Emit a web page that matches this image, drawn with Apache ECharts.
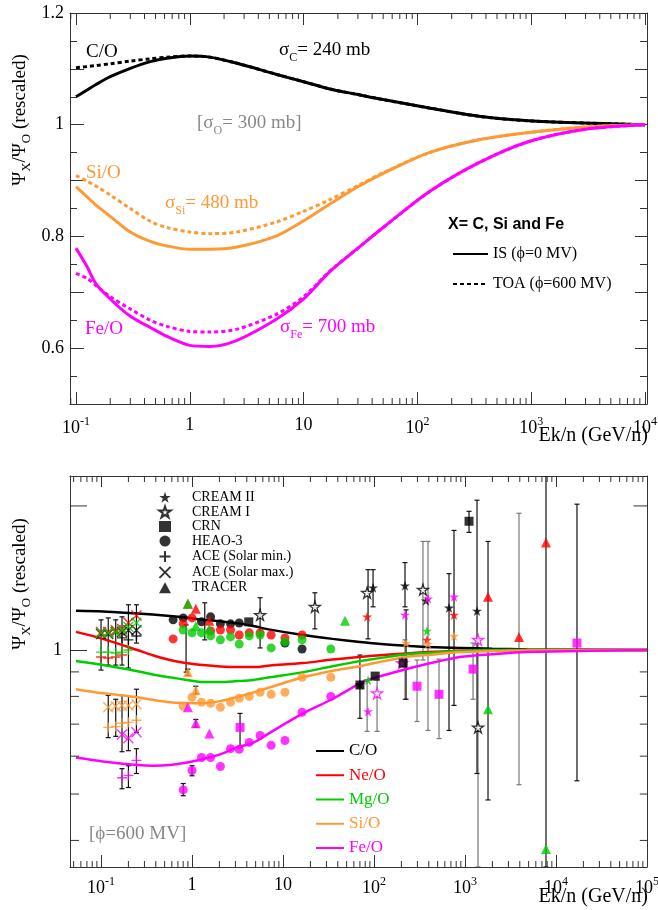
<!DOCTYPE html>
<html><head><meta charset="utf-8">
<script src="https://cdn.jsdelivr.net/npm/echarts@6/dist/echarts.min.js"></script>
<style>html,body{margin:0;padding:0;background:#fff}#c{width:658px;height:910px}</style>
</head><body><div id="c"></div>
<script>
// ---------------- TOP PANEL: IS (solid) vs TOA (dotted) ----------------
const eTop  = [0.1,0.125,0.15,0.2,0.3,0.45,0.63,1,1.5,2.6,5.8,10,17,30,50,127,347,955,3000,10000];
const cIS   = [1.050,1.062,1.072,1.086,1.101,1.113,1.119,1.123,1.121,1.110,1.090,1.077,1.064,1.054,1.045,1.030,1.015,1.007,1.003,1.000];
const cTOA  = [1.102,1.104,1.106,1.109,1.114,1.118,1.121,1.123,1.121,1.110,1.090,1.077,1.064,1.054,1.045,1.030,1.015,1.007,1.003,1.000];
const siIS  = [0.889,0.871,0.856,0.836,0.808,0.791,0.783,0.777,0.777,0.781,0.801,0.828,0.858,0.889,0.913,0.950,0.973,0.986,0.996,1.000];
const siTOA = [0.909,0.899,0.890,0.874,0.850,0.827,0.816,0.808,0.805,0.808,0.826,0.845,0.866,0.891,0.914,0.950,0.973,0.986,0.996,1.000];
const feIS  = [0.779,0.746,0.715,0.688,0.657,0.637,0.621,0.605,0.603,0.614,0.652,0.688,0.737,0.779,0.816,0.880,0.932,0.970,0.992,1.000];
const feTOA = [0.734,0.725,0.712,0.692,0.670,0.650,0.639,0.630,0.629,0.634,0.661,0.692,0.738,0.779,0.816,0.880,0.932,0.970,0.992,1.000];

// ---------------- BOTTOM PANEL: model curves (phi = 600 MV) ----------------
const eBot = [0.053,0.105,0.25,0.37,0.57,0.88,1.32,2.03,3.1,4.7,7.2,16.6,35,70,90,250,380,880,2000,4800,100000];
const coB  = [1.208,1.204,1.192,1.186,1.178,1.168,1.157,1.148,1.138,1.122,1.103,1.075,1.055,1.039,1.034,1.019,1.015,1.010,1.006,1.003,1.000];
const neB  = [1.091,1.055,1.000,0.975,0.953,0.938,0.930,0.924,0.921,0.921,0.928,0.939,0.955,0.967,0.971,0.985,0.990,0.996,0.999,1.000,1.000];
const mgB  = [0.948,0.930,0.903,0.889,0.877,0.866,0.857,0.857,0.861,0.866,0.877,0.899,0.925,0.948,0.955,0.982,0.986,0.995,1.000,1.000,1.000];
const siB  = [0.828,0.812,0.797,0.787,0.778,0.775,0.774,0.782,0.797,0.815,0.836,0.877,0.905,0.925,0.935,0.970,0.976,0.990,0.995,0.998,1.000];
const feB  = [0.596,0.585,0.575,0.573,0.575,0.582,0.592,0.605,0.626,0.640,0.672,0.737,0.790,0.852,0.869,0.917,0.935,0.967,0.980,0.990,1.000];

// ---------------- data points ----------------
const aceMaxC_E = [0.10,0.12,0.145,0.17,0.20,0.245], aceMaxC_R = [1.08,1.08,1.09,1.09,1.10,1.10];
const aceMaxNe_E = [0.10,0.12,0.145,0.17,0.20,0.245], aceMaxNe_R = [1.09,1.09,1.10,1.107,1.14,1.18];
const aceMaxMg_E = [0.10,0.12,0.145,0.17,0.20,0.245], aceMaxMg_R = [1.085,1.085,1.09,1.10,1.118,1.14];
const aceMaxSi_E = [0.12,0.145,0.17,0.20,0.245], aceMaxSi_R = [0.759,0.763,0.766,0.766,0.770];
const aceMaxFe_E = [0.17,0.20,0.245], aceMaxFe_R = [0.666,0.654,0.673];
const aceMinC_E = [0.17,0.20,0.245], aceMinC_R = [1.06,1.05,1.07];
const aceMinNe_E = [0.10,0.12,0.145,0.17], aceMinNe_R = [0.967,0.962,0.967,0.976];
const aceMinMg_E = [0.10,0.12,0.145,0.17,0.20], aceMinMg_R = [0.990,0.990,0.986,0.990,1.000];
const aceMinSi_E = [0.12,0.145,0.17,0.20,0.245], aceMinSi_R = [0.689,0.692,0.703,0.706,0.713];
const aceMinFe_E = [0.17,0.20,0.245], aceMinFe_R = [0.541,0.547,0.588];
const heaoC_E = [0.62,0.8,1.27,1.6,2.05,2.65,3.3,10.5,16.2];
const heaoC_R = [1.156,1.167,1.145,1.173,1.134,1.134,1.139,1.034,1.005];
const heaoNe_E = [0.62,0.8,1.0,1.6,2.05,2.65,3.3,4.25,5.6,7.4,10.5,16.2];
const heaoNe_R = [1.055,1.134,1.167,1.096,1.101,1.101,1.075,1.086,1.086,1.075,1.060,1.075];
const heaoMg_E = [0.8,1.0,1.27,1.6,2.05,2.65,3.3,4.25,5.6,7.4,10.5,16.2,33.5];
const heaoMg_R = [1.101,1.086,1.086,1.070,1.050,1.065,1.029,1.070,1.075,1.010,1.040,1.050,1.005];
const heaoSi_E = [0.8,1.0,1.27,1.6,2.05,2.65,3.3,4.25,5.6,7.4,10.5,16.2,33.5];
const heaoSi_R = [0.763,0.797,0.778,0.774,0.759,0.778,0.793,0.800,0.816,0.808,0.816,0.877,0.877];
const heaoFe_E = [0.8,1.0,1.27,1.6,2.05,2.65,3.3,4.25,5.6,7.4,10.5,16.2,33.5];
const heaoFe_R = [0.510,0.560,0.596,0.596,0.571,0.622,0.620,0.641,0.663,0.632,0.647,0.741,0.800];
const cr2C_E = [70,97.6,219,372,667,1355], cr2C_R = [0.848,1.35,1.363,1.268,1.225,1.207];
const cr2Ne_E = [84,382,757], cr2Ne_R = [1.173,1.05,1.184];
const cr2Mg_E = [86,382], cr2Mg_R = [0.865,1.096];
const cr2Si_E = [225,392,757], cr2Si_R = [1.034,1.03,1.07];
const cr2Fe_E = [86,219,392,757], cr2Fe_R = [0.744,1.184,1.28,1.292];
const cr1C_E = [5.6,22.4,84,345,1390], cr1C_R = [1.184,1.231,1.317,1.337,0.689];
const cr1Fe_E = [108,203,1390], cr1Fe_R = [0.812,0.939,1.05];
const crnC_E = [4.2,70,103,209,1107], crnC_R = [1.145,0.845,0.882,0.939,1.858];
const crnFe_E = [3.37,297,518,1225,17000], crnFe_R = [0.689,0.84,0.808,0.912,1.034];
const trNe_E = [0.9,1.1,1.55,1790,3920,7760], trNe_R = [1.249,1.219,1.151,1.292,1.065,1.678];
const trMg_E = [0.9,1.1,1.55,48,1790,7760], trMg_R = [1.249,1.123,1.107,1.151,0.752,0.384];
const trSi_E = [0.9,1.1], trSi_R = [0.899,0.824];
const trFe_E = [0.9,1.1,1.55], trFe_R = [0.759,0.703,0.669];
const errBlack = [[0.10,0.908,1.156],[0.12,0.930,1.167],[0.145,0.930,1.156],[0.17,0.930,1.173],[0.20,0.917,1.243],[0.245,1.034,1.243],
  [0.12,0.656,0.804],[0.145,0.660,0.789],[0.17,0.613,0.804],[0.17,0.513,0.565],[0.20,0.616,0.80],[0.20,0.516,0.573],[0.245,0.673,0.828],[0.245,0.552,0.622],
  [0.86,0.899,1.128],[1.38,1.05,1.255],[0.8,0.496,0.526],[1.0,0.546,0.573],[3.37,0.625,0.737],[5.6,1.01,1.286],[22.4,1.107,1.317],
  [0.9,0.885,0.912],[1.1,0.81,0.84],[1.1,0.69,0.716],
  [86,1.055,1.472],[97.6,1.231,1.472],[70,0.72,0.976],[219,1.231,1.523],[225,0.789,1.213],[667,0.679,1.444],[757,0.766,1.778],
  [1107,1.761,1.949],[1355,0.552,2.056],[1790,0.486,1.686],[7760,0.352,2.31],[17000,0.533,2.017]];
const errGray = [[84,0.676,0.865],[108,0.676,0.865],[219,0.789,1.05],[297,0.709,0.953],[345,0.953,1.686],[392,0.679,1.686],
  [518,0.653,0.957],[1225,0.789,1.034],[1390,0.352,1.05],[3920,0.523,1.931]];

// ---------------- axis labels / ticks ----------------
const xTopMajor = [0.1,1,10,100,1000,10000];
const xBotMajor = [0.1,1,10,100,1000,10000,100000];
const yTopMajor = [0.6,0.8,1,1.2];
const yBotLabels = [1];
const yBotExtraMajor = [2];
const yBotMinor = [0.4,0.5,0.6,0.7,0.8,0.9];

const SERIF = '"Liberation Serif","DejaVu Serif",serif';
const COL = {C:'#000000', Ne:'#ff0000', Mg:'#00cc00', Si:'#ff9933', Fe:'#ff00ff'};
const AX = '#333';
const pts = (E, R) => E.map((e, i) => [e, R[i]]);
function logMinor(lo, hi) {
  const out = [];
  for (let k = -3; k <= 5; k++) for (let m = 2; m <= 9; m++) {
    const v = parseFloat((m * Math.pow(10, k)).toPrecision(3));
    if (v > lo && v < hi) out.push(v);
  }
  return out;
}
const X1 = [0.0886, 10400], Y1 = [0.5, 1.2], X2 = [0.0456, 100000], Y2 = [0.352, 2.31];

const powFmt = v => {
  const k = Math.round(Math.log10(v));
  if (k === 0) return '{b|1}';
  if (k === 1) return '{b|10}';
  return '{b|10}{s|' + k + '}';
};
const powRich = {
  b: {fontSize: 18, fontFamily: SERIF, color: '#000', verticalAlign: 'bottom'},
  s: {fontSize: 12, fontFamily: SERIF, color: '#000', verticalAlign: 'bottom', padding: [0,0,9,0]}
};
const tk = len => ({show: true, inside: true, length: len, lineStyle: {color: AX, width: 1}});
const line = {show: true, onZero: false, lineStyle: {color: AX, width: 1}};

const xAxis = [
  {type: 'log', logBase: 10, gridIndex: 0, position: 'bottom', min: X1[0], max: X1[1],
   axisLine: line, axisTick: tk(12), splitLine: {show: false},
   axisLabel: {customValues: xTopMajor, margin: 12, formatter: powFmt, rich: powRich}},
  {type: 'log', logBase: 10, gridIndex: 1, position: 'bottom', min: X2[0], max: X2[1],
   axisLine: line, axisTick: tk(12), splitLine: {show: false},
   axisLabel: {customValues: xBotMajor, margin: 9, formatter: powFmt, rich: powRich}},
  {type: 'log', logBase: 10, gridIndex: 0, position: 'top', min: X1[0], max: X1[1],
   axisLine: line, axisTick: tk(12), splitLine: {show: false}, axisLabel: {show: false}},
  {type: 'log', logBase: 10, gridIndex: 1, position: 'top', min: X2[0], max: X2[1],
   axisLine: line, axisTick: tk(11), splitLine: {show: false}, axisLabel: {show: false}}
];
const yAxis = [
  {type: 'value', gridIndex: 0, position: 'left', min: Y1[0], max: Y1[1], interval: 0.1,
   axisLine: line, axisTick: tk(14), splitLine: {show: false},
   minorTick: {show: true, splitNumber: 2, length: 7, lineStyle: {color: AX}}, minorSplitLine: {show: false},
   axisLabel: {customValues: yTopMajor, margin: 6, fontSize: 18, fontFamily: SERIF, color: '#000'}},
  {type: 'log', logBase: 10, gridIndex: 1, position: 'left', min: Y2[0], max: Y2[1],
   axisLine: line, axisTick: tk(17), splitLine: {show: false},
   axisLabel: {customValues: yBotLabels, margin: 8, fontSize: 18, fontFamily: SERIF, color: '#000'}},
  {type: 'value', gridIndex: 0, position: 'right', min: Y1[0], max: Y1[1], interval: 0.1,
   axisLine: line, axisTick: tk(12), splitLine: {show: false},
   minorTick: {show: true, splitNumber: 2, length: 7, lineStyle: {color: AX}}, minorSplitLine: {show: false},
   axisLabel: {show: false}},
  {type: 'log', logBase: 10, gridIndex: 1, position: 'right', min: Y2[0], max: Y2[1],
   axisLine: line, axisTick: tk(8), splitLine: {show: false}, axisLabel: {show: false}}
];

// ---------------- series ----------------
const series = [];
function curve(name, E, R, color, dotted, g, w) {
  series.push({type: 'line', name, xAxisIndex: g, yAxisIndex: g, data: pts(E, R), smooth: 0.3,
    symbol: 'none', z: 3, silent: true,
    lineStyle: {color, width: w, type: dotted ? [4, 3] : 'solid'}, itemStyle: {color}});
}
curve('IS (ϕ=0 MV)', eTop, cIS, COL.C, false, 0, 3);
curve('TOA (ϕ=600 MV)', eTop, cTOA, COL.C, true, 0, 3);
curve('IS (ϕ=0 MV)', eTop, siIS, COL.Si, false, 0, 3);
curve('TOA (ϕ=600 MV)', eTop, siTOA, COL.Si, true, 0, 3);
curve('IS (ϕ=0 MV)', eTop, feIS, COL.Fe, false, 0, 3);
curve('TOA (ϕ=600 MV)', eTop, feTOA, COL.Fe, true, 0, 3);

function err(data, color) {
  series.push({type: 'custom', xAxisIndex: 1, yAxisIndex: 1, data, z: 1, silent: true, clip: true,
    encode: {x: 0, y: [1, 2]},
    renderItem: (params, api) => {
      const e = api.value(0), lo = api.value(1), hi = api.value(2);
      const a = api.coord([e, lo]), b = api.coord([e, hi]);
      const st = {stroke: color, lineWidth: 1.2};
      return {type: 'group', children: [
        {type: 'line', shape: {x1: a[0], y1: a[1], x2: b[0], y2: b[1]}, style: st},
        {type: 'line', shape: {x1: a[0] - 2.5, y1: a[1], x2: a[0] + 2.5, y2: a[1]}, style: st},
        {type: 'line', shape: {x1: b[0] - 2.5, y1: b[1], x2: b[0] + 2.5, y2: b[1]}, style: st}]};
    }});
}
err(errGray, '#777');
err(errBlack, '#111');

// minor ticks of the log axes, placed through the axis scales (same pattern as the error bars)
function minorTicks(g, vals, horiz, len, xExt, yExt, color) {
  const data = vals.map(v => horiz ? [v, yExt[0], yExt[1]] : [v, xExt[0], xExt[1]]);
  series.push({type: 'custom', xAxisIndex: g, yAxisIndex: g, data, z: 8, silent: true, clip: false,
    encode: horiz ? {x: 0, y: [1, 2]} : {y: 0, x: [1, 2]},
    renderItem: (params, api) => {
      const v = api.value(0), lo = api.value(1), hi = api.value(2);
      const a = horiz ? api.coord([v, lo]) : api.coord([lo, v]);
      const b = horiz ? api.coord([v, hi]) : api.coord([hi, v]);
      const st = {stroke: color, lineWidth: 1};
      const kids = horiz ? [
        {type: 'line', shape: {x1: a[0], y1: a[1], x2: a[0], y2: a[1] - len}, style: st},
        {type: 'line', shape: {x1: b[0], y1: b[1], x2: b[0], y2: b[1] + len}, style: st}] : [
        {type: 'line', shape: {x1: a[0], y1: a[1], x2: a[0] + len, y2: a[1]}, style: st},
        {type: 'line', shape: {x1: b[0], y1: b[1], x2: b[0] - len * 0.8, y2: b[1]}, style: st}];
      return {type: 'group', children: kids};
    }});
}
minorTicks(0, logMinor(X1[0], X1[1]), true, 6, X1, Y1, AX);
minorTicks(1, logMinor(X2[0], X2[1]), true, 6, X2, Y2, AX);
minorTicks(1, yBotMinor, false, 9, X2, Y2, AX);
minorTicks(1, yBotExtraMajor, false, 17, X2, Y2, AX);

curve('C/O', eBot, coB, COL.C, false, 1, 2.5);
curve('Ne/O', eBot, neB, COL.Ne, false, 1, 2.5);
curve('Mg/O', eBot, mgB, COL.Mg, false, 1, 2.5);
curve('Si/O', eBot, siB, COL.Si, false, 1, 2.5);
curve('Fe/O', eBot, feB, COL.Fe, false, 1, 2.5);

const STAR = 'path://M50,2L61,36L97,36L68,57L79,92L50,71L21,92L32,57L3,36L39,36Z';
const PLUS = 'path://M0,50L100,50M50,0L50,100';
const CROSS = 'path://M0,0L100,100M100,0L0,100';
function sc(name, E, R, kind, color) {
  const s = {type: 'scatter', name, xAxisIndex: 1, yAxisIndex: 1, data: pts(E, R), z: 4, silent: true};
  if (kind === 'star') { s.symbol = STAR; s.symbolSize = 10; s.itemStyle = {color}; }
  else if (kind === 'ostar') { s.symbol = STAR; s.symbolSize = 11; s.itemStyle = {color: '#fff', borderColor: color, borderWidth: 1.3}; }
  else if (kind === 'sq') { s.symbol = 'rect'; s.symbolSize = 9; s.itemStyle = {color}; }
  else if (kind === 'circ') { s.symbol = 'circle'; s.symbolSize = 9; s.itemStyle = {color}; }
  else if (kind === 'tri') { s.symbol = 'triangle'; s.symbolSize = 10; s.itemStyle = {color}; }
  else if (kind === 'plus') { s.symbol = PLUS; s.symbolSize = 10; s.itemStyle = {color: 'none', borderColor: color, borderWidth: 1.4}; }
  else if (kind === 'cross') { s.symbol = CROSS; s.symbolSize = 10; s.itemStyle = {color: 'none', borderColor: color, borderWidth: 1.4}; }
  series.push(s);
}
sc('CREAM II', cr2C_E, cr2C_R, 'star', COL.C);
sc('CREAM II', cr2Ne_E, cr2Ne_R, 'star', COL.Ne);
sc('CREAM II', cr2Mg_E, cr2Mg_R, 'star', COL.Mg);
sc('CREAM II', cr2Si_E, cr2Si_R, 'star', COL.Si);
sc('CREAM II', cr2Fe_E, cr2Fe_R, 'star', COL.Fe);
sc('CREAM I', cr1C_E, cr1C_R, 'ostar', COL.C);
sc('CREAM I', cr1Fe_E, cr1Fe_R, 'ostar', COL.Fe);
sc('CRN', crnC_E, crnC_R, 'sq', COL.C);
sc('CRN', crnFe_E, crnFe_R, 'sq', COL.Fe);
sc('HEAO-3', heaoC_E, heaoC_R, 'circ', COL.C);
sc('HEAO-3', heaoNe_E, heaoNe_R, 'circ', COL.Ne);
sc('HEAO-3', heaoMg_E, heaoMg_R, 'circ', COL.Mg);
sc('HEAO-3', heaoSi_E, heaoSi_R, 'circ', COL.Si);
sc('HEAO-3', heaoFe_E, heaoFe_R, 'circ', COL.Fe);
sc('ACE (Solar min.)', aceMinC_E, aceMinC_R, 'plus', COL.C);
sc('ACE (Solar min.)', aceMinNe_E, aceMinNe_R, 'plus', COL.Ne);
sc('ACE (Solar min.)', aceMinMg_E, aceMinMg_R, 'plus', COL.Mg);
sc('ACE (Solar min.)', aceMinSi_E, aceMinSi_R, 'plus', COL.Si);
sc('ACE (Solar min.)', aceMinFe_E, aceMinFe_R, 'plus', COL.Fe);
sc('ACE (Solar max.)', aceMaxC_E, aceMaxC_R, 'cross', COL.C);
sc('ACE (Solar max.)', aceMaxNe_E, aceMaxNe_R, 'cross', COL.Ne);
sc('ACE (Solar max.)', aceMaxMg_E, aceMaxMg_R, 'cross', COL.Mg);
sc('ACE (Solar max.)', aceMaxSi_E, aceMaxSi_R, 'cross', COL.Si);
sc('ACE (Solar max.)', aceMaxFe_E, aceMaxFe_R, 'cross', COL.Fe);
sc('TRACER', [], [], 'tri', COL.C);
sc('TRACER', trNe_E, trNe_R, 'tri', COL.Ne);
sc('TRACER', trMg_E, trMg_R, 'tri', COL.Mg);
sc('TRACER', trSi_E, trSi_R, 'tri', COL.Si);
sc('TRACER', trFe_E, trFe_R, 'tri', COL.Fe);

// ---------------- texts ----------------
const subRich = {
  n: {fontSize: 19, fontFamily: SERIF, verticalAlign: 'bottom', padding: [0,0,4,0]},
  s: {fontSize: 12, fontFamily: SERIF, verticalAlign: 'bottom'}
};
function txt(x, y, text, fill, opts) {
  const o = Object.assign({font: '19px ' + SERIF, align: 'left'}, opts || {});
  return {type: 'text', x, y, silent: true, rotation: o.rot || 0,
    style: {text, fill, font: o.font, rich: o.rich, align: o.align, verticalAlign: 'middle'}};
}
const yTitle = '{p|Ψ}{s|X}{p|/Ψ}{s|O}{p| (rescaled)}';
const yTitleRich = {
  p: {fontSize: 19, fontFamily: SERIF, verticalAlign: 'bottom', padding: [0,0,4,0]},
  s: {fontSize: 13, fontFamily: SERIF, verticalAlign: 'bottom'}
};
const graphic = [
  txt(86, 52, 'C/O', COL.C),
  txt(279, 52, '{n|σ}{s|C}{n|= 240 mb}', COL.C, {rich: subRich}),
  txt(197, 125, '{n|[σ}{s|O}{n|= 300 mb]}', '#888', {rich: subRich}),
  txt(86, 173, 'Si/O', COL.Si),
  txt(165, 205, '{n|σ}{s|Si}{n|= 480 mb}', COL.Si, {rich: subRich}),
  txt(85, 329, 'Fe/O', COL.Fe),
  txt(280, 329, '{n|σ}{s|Fe}{n|= 700 mb}', COL.Fe, {rich: subRich}),
  txt(448, 225, 'X= C, Si and Fe', '#000', {font: 'bold 16px "Liberation Sans",Arial,sans-serif'}),
  txt(648, 436, 'Ek/n (GeV/n)', '#000', {font: '20px ' + SERIF, align: 'right'}),
  txt(89, 834, '[ϕ=600 MV]', '#888'),
  txt(648, 897, 'Ek/n (GeV/n)', '#000', {font: '20px ' + SERIF, align: 'right'}),
  txt(22, 120, yTitle, '#000', {rich: yTitleRich, align: 'center', rot: Math.PI / 2}),
  txt(22, 584, yTitle, '#000', {rich: yTitleRich, align: 'center', rot: Math.PI / 2})
];

const option = {
  animation: false,
  backgroundColor: '#fff',
  textStyle: {fontFamily: SERIF},
  grid: [
    {left: 70, top: 13, width: 577, height: 391, show: false, containLabel: false, outerBoundsMode: 'none'},
    {left: 70, top: 476, width: 577, height: 391, show: false, containLabel: false, outerBoundsMode: 'none'}
  ],
  xAxis, yAxis,
  legend: [
    {data: ['IS (ϕ=0 MV)', 'TOA (ϕ=600 MV)'], orient: 'vertical', left: 447, top: 241,
     itemWidth: 35, itemHeight: 12, itemGap: 14, selectedMode: false, itemStyle: {opacity: 0},
     textStyle: {fontFamily: SERIF, fontSize: 16, lineHeight: 16, color: '#000'}},
    {data: ['CREAM II', 'CREAM I', 'CRN', 'HEAO-3', 'ACE (Solar min.)', 'ACE (Solar max.)', 'TRACER'],
     orient: 'vertical', left: 152, top: 485, itemWidth: 12, itemHeight: 11, itemGap: 0, selectedMode: false,
     textStyle: {fontFamily: SERIF, fontSize: 14, lineHeight: 14.6, color: '#000', padding: [0, 0, 0, 16]}},
    {data: [{name: 'C/O', textStyle: {color: COL.C}}, {name: 'Ne/O', textStyle: {color: COL.Ne}},
            {name: 'Mg/O', textStyle: {color: COL.Mg}}, {name: 'Si/O', textStyle: {color: COL.Si}},
            {name: 'Fe/O', textStyle: {color: COL.Fe}}],
     orient: 'vertical', left: 310, top: 737, itemWidth: 28, itemHeight: 14, itemGap: 6.25, selectedMode: false,
     itemStyle: {opacity: 0},
     textStyle: {fontFamily: SERIF, fontSize: 17, lineHeight: 18}}
  ],
  series,
  graphic
};
const chart = echarts.init(document.getElementById('c'), null, {renderer: 'canvas'});
chart.setOption(option);
</script></body></html>
